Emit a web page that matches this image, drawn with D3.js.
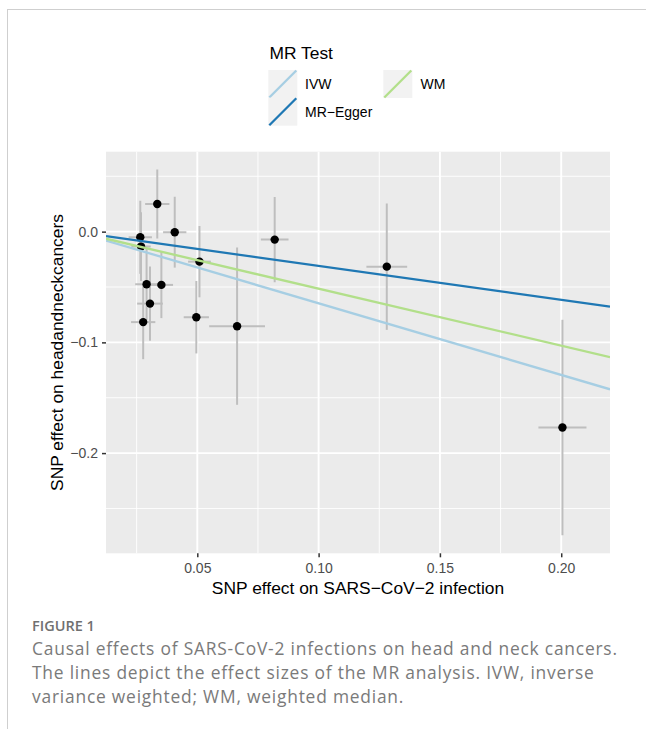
<!DOCTYPE html>
<html>
<head>
<meta charset="utf-8">
<script src="https://cdn.jsdelivr.net/npm/d3@7"></script>
<style>
  html, body { margin: 0; padding: 0; background: #fff; }
  svg { display: block; }
</style>
</head>
<body>
<div id="chart"></div>
<script>
// ---------------- DATA ----------------
const snpX   = [0.0265, 0.0268, 0.0335, 0.0407, 0.0509, 0.0291, 0.0352, 0.0305, 0.0277, 0.0496, 0.0664, 0.0819, 0.1281, 0.2005];
const snpXse = [0.0048, 0.0040, 0.0050, 0.0048, 0.0047, 0.0047, 0.0048, 0.0053, 0.0050, 0.0052, 0.0115, 0.0057, 0.0084, 0.0099];
const snpY   = [-0.0051, -0.0135, 0.0250, -0.0005, -0.0271, -0.0475, -0.0481, -0.0650, -0.0817, -0.0773, -0.0854, -0.0072, -0.0316, -0.1769];
const snpYse = [0.0330, 0.0310, 0.0312, 0.0320, 0.0322, 0.0320, 0.0300, 0.0335, 0.0335, 0.0327, 0.0710, 0.0385, 0.0571, 0.0973];

const methods    = ["IVW", "MR\u2212Egger", "WM"];
const slopes     = [-0.647, -0.307, -0.515];
const intercepts = [0.0, -0.0002, 0.0];
const methodColors = ["#A6CEE3", "#1F78B4", "#B2DF8A"];

const xTicks = [0.05, 0.10, 0.15, 0.20];
const yTicks = [-0.2, -0.1, 0.0];
const xMinor = [0.025, 0.075, 0.125, 0.175];
const yMinor = [-0.25, -0.15, -0.05, 0.05];

const legendTitle = "MR Test";
const xTitle = "SNP effect on SARS\u2212CoV\u22122 infection";
const yTitle = "SNP effect on headandneckcancers";
const figLabel = "FIGURE 1";
const captionLines = [
  "Causal effects of SARS-CoV-2 infections on head and neck cancers.",
  "The lines depict the effect sizes of the MR analysis. IVW, inverse",
  "variance weighted; WM, weighted median."
];

// ---------------- LAYOUT ----------------
const W = 646, H = 729;
const panel = { left: 106, right: 610, top: 151.7, bottom: 553.3 };
const font = "'Liberation Sans', Arial, Helvetica, sans-serif";

const svg = d3.select("#chart").append("svg")
  .attr("width", W).attr("height", H);

svg.append("rect").attr("width", W).attr("height", H).attr("fill", "#fff");

// frame lines
svg.append("line").attr("x1", 7).attr("x2", W).attr("y1", 9.5).attr("y2", 9.5)
  .attr("stroke", "#cfcfcf").attr("stroke-width", 1);
svg.append("line").attr("x1", 7.5).attr("x2", 7.5).attr("y1", 9.5).attr("y2", H)
  .attr("stroke", "#cfcfcf").attr("stroke-width", 1);

const x = d3.scaleLinear().domain([0.01237, 0.2201]).range([panel.left, panel.right]);
const y = d3.scaleLinear().domain([-0.2905, 0.0722]).range([panel.bottom, panel.top]);

// panel background
svg.append("rect")
  .attr("x", panel.left).attr("y", panel.top)
  .attr("width", panel.right - panel.left).attr("height", panel.bottom - panel.top)
  .attr("fill", "#EBEBEB");

const grid = svg.append("g");
// minor grid
grid.selectAll(".vminor").data(xMinor).join("line")
  .attr("x1", d => x(d)).attr("x2", d => x(d))
  .attr("y1", panel.top).attr("y2", panel.bottom)
  .attr("stroke", "#fff").attr("stroke-width", 0.9);
grid.selectAll(".hminor").data(yMinor).join("line")
  .attr("y1", d => y(d)).attr("y2", d => y(d))
  .attr("x1", panel.left).attr("x2", panel.right)
  .attr("stroke", "#fff").attr("stroke-width", 0.9);
// major grid
grid.selectAll(".vmajor").data(xTicks).join("line")
  .attr("x1", d => x(d)).attr("x2", d => x(d))
  .attr("y1", panel.top).attr("y2", panel.bottom)
  .attr("stroke", "#fff").attr("stroke-width", 1.9);
grid.selectAll(".hmajor").data(yTicks).join("line")
  .attr("y1", d => y(d)).attr("y2", d => y(d))
  .attr("x1", panel.left).attr("x2", panel.right)
  .attr("stroke", "#fff").attr("stroke-width", 1.9);

// clip
svg.append("clipPath").attr("id", "clip").append("rect")
  .attr("x", panel.left).attr("y", panel.top)
  .attr("width", panel.right - panel.left).attr("height", panel.bottom - panel.top);

const pts = snpX.map((d, i) => ({ x: d, y: snpY[i], xse: snpXse[i], yse: snpYse[i] }));

const plot = svg.append("g").attr("clip-path", "url(#clip)");
// vertical error bars
plot.selectAll(".ev").data(pts).join("line")
  .attr("x1", d => x(d.x)).attr("x2", d => x(d.x))
  .attr("y1", d => y(d.y - d.yse)).attr("y2", d => y(d.y + d.yse))
  .attr("stroke", "#BEBEBE").attr("stroke-width", 2);
// horizontal error bars
plot.selectAll(".eh").data(pts).join("line")
  .attr("y1", d => y(d.y)).attr("y2", d => y(d.y))
  .attr("x1", d => x(d.x - d.xse)).attr("x2", d => x(d.x + d.xse))
  .attr("stroke", "#BEBEBE").attr("stroke-width", 2);
// points
plot.selectAll(".pt").data(pts).join("circle")
  .attr("cx", d => x(d.x)).attr("cy", d => y(d.y)).attr("r", 4.2)
  .attr("fill", "#000");
// ablines
const xd = x.domain();
const lines = methods.map((m, i) => ({ m, b: slopes[i], a: intercepts[i], c: methodColors[i] }));
plot.selectAll(".ab").data(lines).join("line")
  .attr("x1", x(xd[0])).attr("x2", x(xd[1]))
  .attr("y1", d => y(d.a + d.b * xd[0])).attr("y2", d => y(d.a + d.b * xd[1]))
  .attr("stroke", d => d.c).attr("stroke-width", 2.3);

// axes
const xAxis = svg.append("g").attr("transform", `translate(0,${panel.bottom})`)
  .call(d3.axisBottom(x).tickValues(xTicks).tickFormat(d3.format(".2f")).tickSize(4).tickPadding(6));
const yAxis = svg.append("g").attr("transform", `translate(${panel.left},0)`)
  .call(d3.axisLeft(y).tickValues(yTicks).tickFormat(d3.format(".1f")).tickSize(4).tickPadding(4));
[xAxis, yAxis].forEach(a => {
  a.select(".domain").remove();
  a.selectAll(".tick line").attr("stroke", "#333333").attr("stroke-width", 1.5);
  a.selectAll(".tick text").attr("fill", "#4D4D4D").style("font-family", font).style("font-size", "14px");
});

// axis titles
svg.append("text").attr("x", (panel.left + panel.right) / 2).attr("y", 594)
  .attr("text-anchor", "middle").style("font-family", font).style("font-size", "17.4px")
  .attr("fill", "#000").text(xTitle);
svg.append("text")
  .attr("transform", `translate(62.5,${(panel.top + panel.bottom) / 2}) rotate(-90)`)
  .attr("text-anchor", "middle").style("font-family", font).style("font-size", "17.4px")
  .attr("fill", "#000").text(yTitle);

// legend
const lg = svg.append("g");
lg.append("text").attr("x", 269.5).attr("y", 59).style("font-family", font)
  .style("font-size", "17.4px").attr("fill", "#000").text(legendTitle);
const keyPos = [
  { kx: 268.3, ky: 70, tx: 305 },
  { kx: 268.3, ky: 97.7, tx: 305 },
  { kx: 383.3, ky: 70, tx: 420.5 }
];
const keySize = 28;
lines.forEach((d, i) => {
  const p = keyPos[i];
  lg.append("rect").attr("x", p.kx).attr("y", p.ky).attr("width", keySize + 1).attr("height", keySize)
    .attr("fill", "#F2F2F2");
  lg.append("line").attr("x1", p.kx + 1).attr("y1", p.ky + keySize - 0.5)
    .attr("x2", p.kx + keySize).attr("y2", p.ky + 0.5)
    .attr("stroke", d.c).attr("stroke-width", 2.3);
  lg.append("text").attr("x", p.tx).attr("y", p.ky + keySize / 2).attr("dy", "0.36em")
    .style("font-family", font).style("font-size", "14px").attr("fill", "#000").text(d.m);
});

// caption
const capFont = "'Open Sans', 'Noto Sans', sans-serif";
svg.append("text").attr("x", 32).attr("y", 631)
  .style("font-family", capFont).style("font-size", "14.5px").style("font-weight", "600")
  .attr("fill", "#707070").text(figLabel);
const capG = svg.append("g");
captionLines.forEach((t, i) => {
  capG.append("text").attr("x", 32).attr("y", 655 + i * 24)
    .style("font-family", capFont).style("font-size", "17.4px")
    .attr("fill", "#7a7a7a").text(t);
});
// widen letter spacing so the first caption line spans ~585px like the reference
const firstNode = capG.select("text").node();
const firstLen = firstNode.getComputedTextLength();
const ls = Math.max(0, (585 - firstLen) / (captionLines[0].length - 1));
capG.selectAll("text").style("letter-spacing", ls.toFixed(3) + "px");
</script>
</body>
</html>
